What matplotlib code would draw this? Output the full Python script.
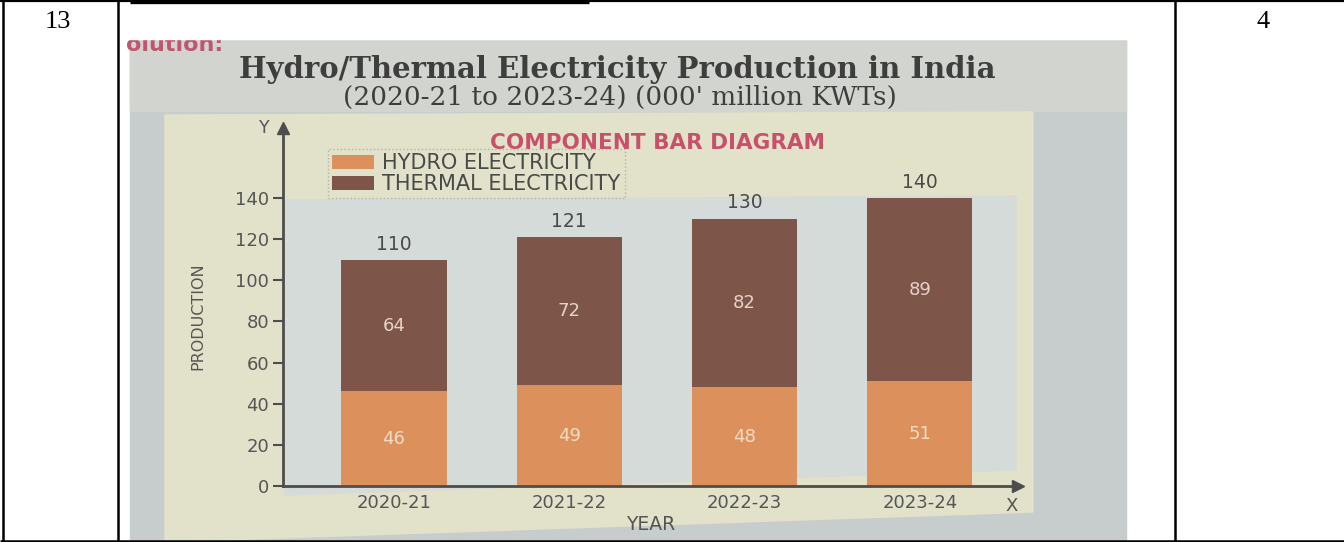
import numpy as np
import matplotlib.pyplot as plt
from matplotlib.patches import Rectangle, Polygon, Patch

# Data (000' million KWTs)
years = ["2020-21", "2021-22", "2022-23", "2023-24"]
hydro = [46, 49, 48, 51]
thermal = [64, 72, 82, 89]
totals = [110, 121, 130, 140]

# Colours
hydro_col = "#dc915c"
thermal_col = "#7e5649"
ink = "#4a4a4a"
pink = "#c9506b"

W, H = 1344, 542
fig = plt.figure(figsize=(W / 100, H / 100), dpi=100)
fig.patch.set_facecolor("white")

# background axes in pixel coords (y down) for the table and the photo
bg = fig.add_axes([0, 0, 1, 1], zorder=0)
bg.set_xlim(0, W)
bg.set_ylim(H, 0)
bg.axis("off")

# photo area
bg.add_patch(Rectangle((130, 39), 996, 503, color="#c6cdcc", zorder=1))
bg.add_patch(Rectangle((130, 39), 996, 72, color="#d2d5cf", zorder=1))
# cream panel and bluish inner area
bg.add_patch(Polygon([(165, 115), (1033, 112), (1033, 512), (165, 542)],
                     closed=True, color="#e2e1ca", zorder=1.2))
bg.add_patch(Polygon([(285, 200), (1016, 196), (1016, 470), (285, 495)],
                     closed=True, color="#d5dbd8", zorder=1.3))

# cropped heading at top of the photo
bg.text(126, 51, "olution:", fontsize=16, fontweight="bold", color="#c05570",
        ha="left", va="baseline", zorder=2)
bg.add_patch(Rectangle((120, 0), 1010, 39, color="white", zorder=3))

# table lines
lc = "black"
bg.plot([0, W], [1.2, 1.2], color=lc, lw=1.6, zorder=5, solid_capstyle="butt")
bg.plot([130, 589], [1.5, 1.5], color=lc, lw=2.4, zorder=5, solid_capstyle="butt")
bg.plot([0, W], [541, 541], color=lc, lw=1.8, zorder=5, solid_capstyle="butt")
for xv in [2.5, 117.5, 1174.5]:
    bg.plot([xv, xv], [0, H], color=lc, lw=1.8, zorder=5, solid_capstyle="butt")
bg.text(58, 22, "13", fontsize=19, family="Liberation Serif", ha="center", va="center", zorder=6)
bg.text(1263, 22, "4", fontsize=19, family="Liberation Serif", ha="center", va="center", zorder=6)

# titles
bg.text(617, 70, "Hydro/Thermal Electricity Production in India", fontsize=21,
        family="DejaVu Serif", fontweight="bold", color="#3e3e3e",
        ha="center", va="center", zorder=6)
bg.text(620, 97, "(2020-21 to 2023-24) (000' million KWTs)", fontsize=19,
        family="DejaVu Serif", color="#3e3e3e", ha="center", va="center", zorder=6)
bg.text(657, 143, "COMPONENT BAR DIAGRAM", fontsize=15.5, fontweight="bold",
        color=pink, ha="center", va="center", zorder=6)

# chart axes
x0, x1 = 283, 1018
y0, y1 = 486, 128
ax = fig.add_axes([x0 / W, (H - y0) / H, (x1 - x0) / W, (y0 - y1) / H], zorder=2)
ax.set_facecolor("none")

x = np.arange(len(years))
ax.bar(x, hydro, width=0.6, color=hydro_col, zorder=2)
ax.bar(x, thermal, width=0.6, bottom=hydro, color=thermal_col, zorder=2)

for i in range(len(years)):
    ax.text(x[i], hydro[i] / 2, str(hydro[i]), ha="center", va="center",
            fontsize=13, color="#f1dac6", zorder=3)
    ax.text(x[i], hydro[i] + thermal[i] / 2, str(thermal[i]), ha="center", va="center",
            fontsize=13, color="#e6d3c8", zorder=3)
    ax.text(x[i], totals[i] + 3, str(totals[i]), ha="center", va="bottom",
            fontsize=13.5, color=ink, zorder=3)

ax.set_xlim(-0.633, 3.56)
ax.set_ylim(0, 174)
ax.set_yticks(np.arange(0, 141, 20))
ax.set_xticks(x)
ax.set_xticklabels(years)

for s in ["top", "right"]:
    ax.spines[s].set_visible(False)
for s in ["left", "bottom"]:
    ax.spines[s].set_color("#4d4d4d")
    ax.spines[s].set_linewidth(2)
ax.tick_params(axis="y", length=7, width=1.5, color="#4d4d4d", labelcolor="#555555",
               labelsize=13, pad=3)
ax.tick_params(axis="x", length=0, labelcolor="#555555", labelsize=13, pad=6)

# axis arrows and letters
ax.plot(0, 1, "^", transform=ax.transAxes, clip_on=False, color="#4d4d4d", ms=8, zorder=4)
ax.plot(1, 0, ">", transform=ax.transAxes, clip_on=False, color="#4d4d4d", ms=8, zorder=4)
ax.text(-0.018, 1.0, "Y", transform=ax.transAxes, ha="right", va="center",
        fontsize=12.5, color="#555555")
ax.text(0.992, -0.03, "X", transform=ax.transAxes, ha="center", va="top",
        fontsize=13, color="#555555")

ax.set_xlabel("YEAR", fontsize=13.5, color="#555555", labelpad=2)
ax.set_ylabel("PRODUCTION", fontsize=11.5, color="#555555")
ax.yaxis.set_label_coords(-0.106, 0.475)

handles = [Patch(facecolor=hydro_col, label="HYDRO ELECTRICITY"),
           Patch(facecolor=thermal_col, label="THERMAL ELECTRICITY")]
leg = fig.legend(handles=handles, loc="upper left",
                 bbox_to_anchor=(328 / W, 1 - 149 / H), fontsize=15,
                 frameon=True, fancybox=False, borderaxespad=0, borderpad=0.2,
                 handlelength=2.0, handleheight=0.7, handletextpad=0.4,
                 labelspacing=0.05, labelcolor=ink)
leg.get_frame().set_facecolor("none")
leg.get_frame().set_edgecolor("#a8a8a8")
leg.get_frame().set_linestyle(":")
leg.set_zorder(6)

fig.savefig("out.png", dpi=100)
